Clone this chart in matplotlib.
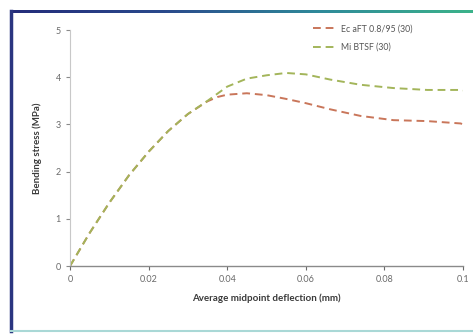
import numpy as np
import matplotlib
matplotlib.use("Agg")
import matplotlib.pyplot as plt
from matplotlib.lines import Line2D
from matplotlib.colors import LinearSegmentedColormap

plt.rcParams['font.family'] = ['Lato', 'DejaVu Sans']

# Data
x_red = [0, 0.005, 0.010, 0.015, 0.020, 0.025, 0.030, 0.035, 0.0375, 0.040, 0.045, 0.050, 0.055, 0.060, 0.0662, 0.0739, 0.0823, 0.0909, 0.0994, 0.1]
y_red = [0, 0.70, 1.34, 1.92, 2.42, 2.86, 3.22, 3.49, 3.58, 3.63, 3.66, 3.62, 3.54, 3.45, 3.32, 3.18, 3.09, 3.07, 3.02, 3.00]
x_grn = [0, 0.005, 0.010, 0.015, 0.020, 0.025, 0.030, 0.035, 0.0375, 0.040, 0.045, 0.050, 0.055, 0.060, 0.0662, 0.0739, 0.0823, 0.0909, 0.0994, 0.1]
y_grn = [0, 0.70, 1.34, 1.92, 2.42, 2.86, 3.22, 3.50, 3.65, 3.80, 3.97, 4.04, 4.09, 4.06, 3.95, 3.84, 3.77, 3.73, 3.73, 3.72]
label_red = "Ec aFT 0.8/95 (30)"
label_grn = "Mi BTSF (30)"
xticks = [0, 0.02, 0.04, 0.06, 0.08, 0.1]
xticklabels = ["0", "0.02", "0.04", "0.06", "0.08", "0.1"]
yticks = [0, 1, 2, 3, 4, 5]

fig = plt.figure(figsize=(4.73, 3.36), dpi=100)
W, H = 473, 336
ax = fig.add_axes([70 / W, 1 - 266 / H, 393 / W, 236 / H])

ax.plot(x_red, y_red, color='#c9765a', lw=1.4, dashes=(4, 2.5), label=label_red)
ax.plot(x_grn, y_grn, color='#a3b55a', lw=1.4, dashes=(4, 2.5), label=label_grn)

ax.set_xlim(0, 0.1)
ax.set_ylim(0, 5)
ax.set_xticks(xticks)
ax.set_xticklabels(xticklabels)
ax.set_yticks(yticks)
for s in ['top', 'right']:
    ax.spines[s].set_visible(False)
ax.spines['left'].set_color('#c8c8c8')
ax.spines['bottom'].set_color('#8a8a8a')
ax.spines['bottom'].set_linewidth(1.0)
ax.tick_params(axis='both', labelsize=6.5, colors='#6a6a6a', length=3, width=0.8)
ax.tick_params(axis='y', colors='#8a8a8a', labelcolor='#6a6a6a')
ax.set_xlabel("Average midpoint deflection (mm)", fontsize=7, fontweight='bold', color='#3a3a3a', labelpad=7)
ax.set_ylabel("Bending stress (MPa)", fontsize=7, fontweight='bold', color='#3a3a3a', labelpad=10)

leg = ax.legend(loc='upper left', bbox_to_anchor=((313 - 70) / 393, 1.025), frameon=False, fontsize=6.3,
                handlelength=2.8, handletextpad=0.4, labelspacing=1.1, borderpad=0, borderaxespad=0,
                labelcolor='#555555')

# Frame around the chart
fig.add_artist(Line2D([11 / W, 11 / W], [1 - 11 / H, 1 - 331 / H], color='#2a3580', lw=2.5))
fig.add_artist(Line2D([11 / W, 1.0], [1 - 331 / H, 1 - 331 / H], color='#a9d8d6', lw=1.5))
gax = fig.add_axes([10 / W, 1 - 13 / H, 463 / W, 3 / H])
cmap = LinearSegmentedColormap.from_list('g', ['#242c7a', '#2a4a8c', '#2f8a9a', '#3cb38a'])
gax.imshow(np.linspace(0, 1, 256)[None, :], aspect='auto', cmap=cmap)
gax.axis('off')

fig.savefig("out.png", dpi=100)
